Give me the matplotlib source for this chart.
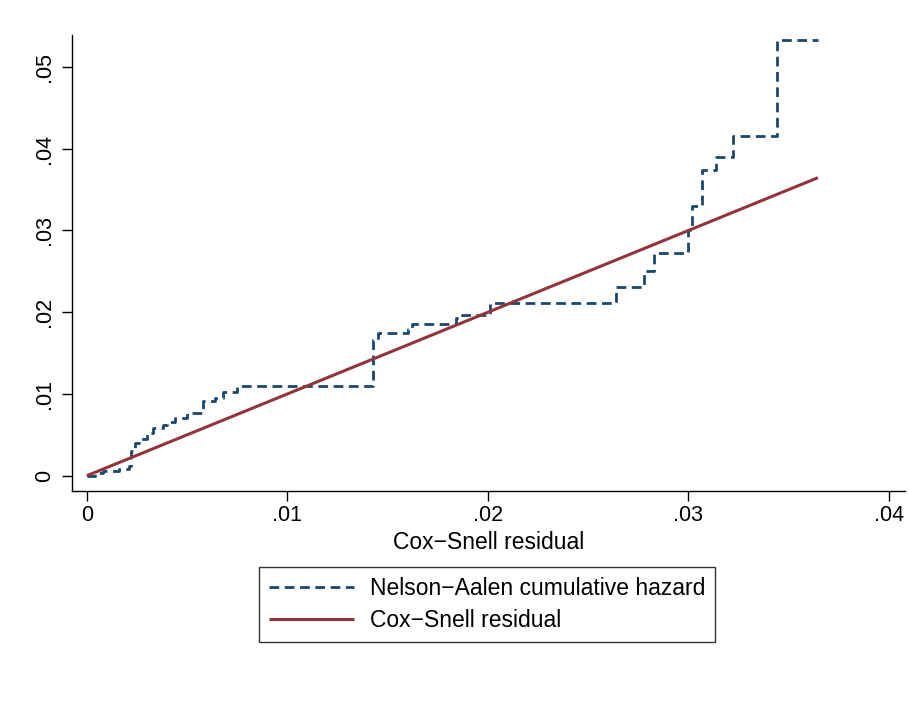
import matplotlib
matplotlib.use("Agg")
import matplotlib.pyplot as plt

plt.rcParams['font.family'] = ['Liberation Sans', 'DejaVu Sans']

# Nelson-Aalen cumulative hazard evaluated at the Cox-Snell residuals (step function)
cs_resid = [0.0, 0.0004, 0.0008, 0.0016, 0.0021, 0.0022, 0.0024, 0.0027, 0.0030,
            0.0033, 0.0038, 0.0040, 0.0044, 0.0050, 0.0058, 0.0064, 0.0068, 0.0075,
            0.01426, 0.0145, 0.0160, 0.0162, 0.0184, 0.0187, 0.0201, 0.0264,
            0.0278, 0.0283, 0.0300, 0.0302, 0.0307, 0.0314, 0.0322, 0.0344, 0.03646]
na_hazard = [0.0, 0.0003, 0.0006, 0.0008, 0.0012, 0.0030, 0.0040, 0.0045, 0.0052,
             0.0058, 0.0062, 0.0066, 0.0071, 0.0077, 0.0091, 0.0095, 0.0102, 0.0110,
             0.0166, 0.0175, 0.0180, 0.0186, 0.0193, 0.0197, 0.0211, 0.0231,
             0.0250, 0.0273, 0.0300, 0.0330, 0.0374, 0.0390, 0.0416, 0.0533, 0.0533]

# 45-degree reference line
ref_x = [0.0, 0.03646]
ref_y = [0.0, 0.03646]

x_ticks = [0, 0.01, 0.02, 0.03, 0.04]
x_tick_labels = ['0', '.01', '.02', '.03', '.04']
y_ticks = [0, 0.01, 0.02, 0.03, 0.04, 0.05]
y_tick_labels = ['0', '.01', '.02', '.03', '.04', '.05']

navy = '#1a476f'
maroon = '#90353b'

fig = plt.figure(figsize=(9.09, 7.02), dpi=100)
ax = fig.add_axes([0.0789, 0.301, 0.9956 - 0.0789, 0.950 - 0.301])

ax.plot(cs_resid, na_hazard, drawstyle='steps-post', color=navy, lw=2.0,
        linestyle=(0, (3.5, 2.0)), label='Nelson\u2212Aalen cumulative hazard')
ax.plot(ref_x, ref_y, color=maroon, lw=2.2, solid_capstyle='butt',
        label='Cox\u2212Snell residual')

ax.set_xlim(-0.00075, 0.0408)
ax.set_ylim(-0.00183, 0.0539)

ax.set_xticks(x_ticks)
ax.set_xticklabels(x_tick_labels)
ax.set_yticks(y_ticks)
ax.set_yticklabels(y_tick_labels, rotation=90, va='center')

ax.tick_params(axis='both', labelsize=15.5, length=7, width=1.0, color='black')
ax.tick_params(axis='x', pad=3)
ax.tick_params(axis='y', pad=5)

for side in ('top', 'right'):
    ax.spines[side].set_visible(False)
for side in ('left', 'bottom'):
    ax.spines[side].set_linewidth(1.0)
    ax.spines[side].set_color('black')

ax.set_xlabel('Cox\u2212Snell residual', fontsize=16.5, labelpad=4)

leg = fig.legend(loc='upper center', bbox_to_anchor=(487 / 909, 1 - 567 / 702),
                 fontsize=16.5, frameon=True, fancybox=False, edgecolor='black',
                 handlelength=3.7, handletextpad=0.7, labelspacing=0.38,
                 borderpad=0.45, borderaxespad=0)
leg.get_frame().set_linewidth(1.0)

fig.savefig('out.png', dpi=100)
